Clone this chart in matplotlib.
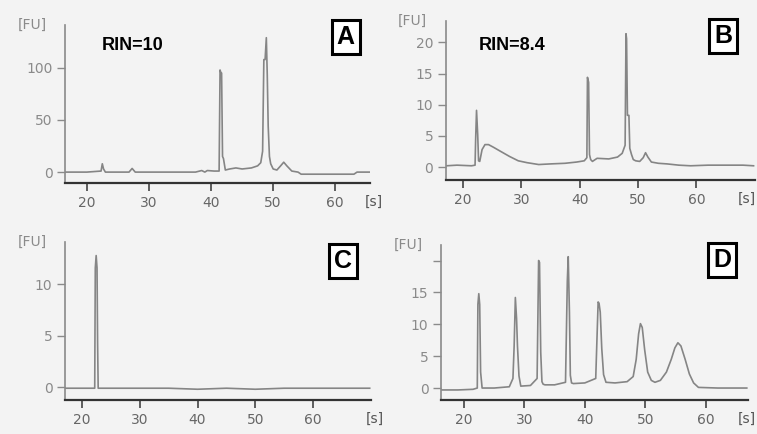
from matplotlib import pyplot as plt
import numpy as np

# electropherogram traces, time [s] vs fluorescence [FU]
time_a = [16.6, 20.0, 22.3, 22.5, 22.7, 23.0, 26.8, 27.3, 27.8, 30.0, 35.0, 37.5,
          38.5, 39.0, 39.4, 40.5, 41.3, 41.45, 41.55, 41.7, 41.85, 42.0, 42.3, 43.0,
          44.0, 45.0, 46.5, 47.5, 48.0, 48.3, 48.5, 48.7, 48.9, 49.05, 49.2, 49.4,
          49.6, 50.0, 50.6, 51.2, 51.7, 52.2, 53.0, 54.0, 54.5, 58.0, 63.0, 63.5, 65.5]
fu_a = [0, 0, 1, 8, 3, 0, 0, 3.5, 0, 0, 0, 0,
        1.5, 0, 1.5, 1, 1, 98, 96, 95, 15, 13, 2, 3,
        4, 3, 4, 6, 9, 20, 108, 108, 129, 93, 44, 15,
        8, 3, 2, 6, 9.5, 6, 1, 0, -2, -2, -2, 0, 0]

time_b = [17.2, 19.0, 21.5, 22.1, 22.2, 22.35, 22.55, 22.7, 22.9, 23.3, 23.8, 24.4,
          25.2, 26.5, 28.0, 29.5, 31.0, 33.0, 35.0, 37.5, 39.5, 40.8, 41.25, 41.35,
          41.55, 41.7, 41.9, 42.2, 43.0, 45.0, 46.5, 47.3, 47.8, 47.95, 48.05, 48.2,
          48.45, 48.6, 48.9, 49.2, 49.6, 50.3, 50.9, 51.3, 51.7, 52.3, 53.5, 55.0,
          57.0, 59.0, 62.0, 65.0, 68.0, 69.8]
fu_b = [0.2, 0.3, 0.2, 0.3, 4.5, 9.1, 5.2, 1.0, 0.9, 2.8, 3.6, 3.6,
        3.2, 2.5, 1.7, 1.0, 0.7, 0.4, 0.5, 0.6, 0.8, 1.0, 1.5, 14.4,
        13.6, 2.0, 1.2, 0.9, 1.4, 1.3, 1.6, 2.2, 3.5, 21.4, 20.6, 8.3,
        8.3, 3.0, 2.0, 1.2, 1.0, 0.9, 1.5, 2.3, 1.6, 0.8, 0.6, 0.5,
        0.3, 0.2, 0.3, 0.3, 0.3, 0.2]

time_c = [17.1, 20.0, 22.2, 22.3, 22.45, 22.6, 22.7, 22.8, 25.0, 30.0, 35.0, 40.0,
          45.0, 50.0, 55.0, 60.0, 65.0, 69.8]
fu_c = [-0.1, -0.1, -0.1, 11.6, 12.8, 11.6, 4.2, -0.1, -0.1, -0.1, -0.1, -0.2,
        -0.1, -0.2, -0.1, -0.1, -0.1, -0.1]

time_d = [16.3, 19.0, 21.5, 22.2, 22.3, 22.45, 22.6, 22.75, 23.0, 25.0, 27.5,
          28.1, 28.3, 28.5, 28.7, 28.85, 29.1, 29.4, 31.0, 32.1, 32.35, 32.5, 32.7,
          32.9, 33.1, 33.4, 35.0, 36.8, 37.1, 37.25, 37.45, 37.6, 37.8, 38.1, 40.0,
          41.8, 42.2, 42.35, 42.55, 42.8, 43.1, 43.5, 45.0, 47.0, 48.0, 48.5, 48.9,
          49.2, 49.5, 49.9, 50.4, 51.0, 51.6, 52.5, 53.5, 54.3, 54.9, 55.4, 55.9,
          56.6, 57.3, 58.0, 58.8, 62.0, 66.8]
fu_d = [-0.3, -0.3, -0.2, 0, 13.1, 14.8, 13.1, 2.5, 0, 0, 0.2,
        1.5, 6.6, 14.2, 10.9, 6.6, 1.9, 0.3, 0.4, 1.5, 20.0, 19.7, 5.6,
        1.0, 0.6, 0.5, 0.5, 0.9, 16.8, 20.6, 11.9, 2.0, 0.8, 0.7, 0.8,
        1.5, 13.5, 13.3, 11.9, 6.2, 2.1, 0.9, 0.8, 1.0, 1.8, 4.5, 8.5,
        10.1, 9.5, 6.0, 2.5, 1.2, 0.9, 1.2, 2.5, 4.5, 6.3, 7.1, 6.6,
        4.5, 2.2, 0.8, 0.1, 0, 0]

panels = [
    # letter, rin, time, fu, rect, xlim, ylim, yticks
    ('A', 'RIN=10', time_a, fu_a, [0.0859, 0.578, 0.403, 0.364], (16.5, 65.6), (-10.6, 141), [0, 50, 100]),
    ('B', 'RIN=8.4', time_b, fu_b, [0.589, 0.585, 0.408, 0.366], (17.1, 70.0), (-2.1, 23.4), [0, 5, 10, 15, 20]),
    ('C', None, time_c, fu_c, [0.0859, 0.078, 0.404, 0.364], (17.06, 70.0), (-1.26, 14.1), [0, 5, 10]),
    ('D', None, time_d, fu_d, [0.5826, 0.078, 0.4055, 0.357], (16.2, 67.0), (-1.9, 22.4), [0, 5, 10, 15, 20]),
]
letter_pos = {'A': (0.92, 0.926), 'B': (0.898, 0.907), 'C': (0.908, 0.88), 'D': (0.915, 0.906)}
rin_pos = {'A': (0.22, 0.873), 'B': (0.214, 0.849)}
s_pos = {'A': 1.013, 'B': 0.975, 'C': 1.013, 'D': 0.995}

bg = '#f3f3f3'
fig = plt.figure(figsize=(7.57, 4.34), dpi=100, facecolor=bg)

for letter, rin, t, fu, rect, xlim, ylim, yticks in panels:
    ax = fig.add_axes(rect)
    ax.set_facecolor(bg)
    ax.plot(t, fu, color='#858585', lw=1.2)
    ax.set_xlim(*xlim)
    ax.set_ylim(*ylim)
    ax.set_xticks([20, 30, 40, 50, 60])
    ax.set_yticks(yticks)
    if letter == 'D':
        ax.set_yticklabels(['0', '5', '10', '15', ''])
    for s in ['top', 'right']:
        ax.spines[s].set_visible(False)
    ax.spines['left'].set_color('#8a8a8a')
    ax.spines['left'].set_linewidth(1.2)
    ax.spines['bottom'].set_color('#333333')
    ax.spines['bottom'].set_linewidth(1.6)
    ax.tick_params(axis='y', colors='#8a8a8a', length=6, width=1, labelsize=10, pad=3)
    ax.tick_params(axis='x', colors='#444444', labelcolor='#666666', length=6, width=1.2,
                   labelsize=10, pad=3)
    ax.text(-0.108, 1.0, '[FU]', transform=ax.transAxes, ha='center', va='center',
            color='#8a8a8a', fontsize=10)
    ax.text(s_pos[letter], -0.12, '[s]', transform=ax.transAxes, ha='center', va='center',
            color='#555555', fontsize=10)
    lx, ly = letter_pos[letter]
    ax.text(lx, ly, letter, transform=ax.transAxes, ha='center', va='center',
            family='Liberation Sans', weight='bold', fontsize=18,
            bbox=dict(boxstyle='square,pad=0.2', fc='white', ec='black', lw=2.2))
    if rin:
        rx, ry = rin_pos[letter]
        ax.text(rx, ry, rin, transform=ax.transAxes, ha='center', va='center',
                family='Liberation Sans', weight='bold', fontsize=13, color='black')

plt.savefig('out.png', dpi=100, facecolor=bg)
